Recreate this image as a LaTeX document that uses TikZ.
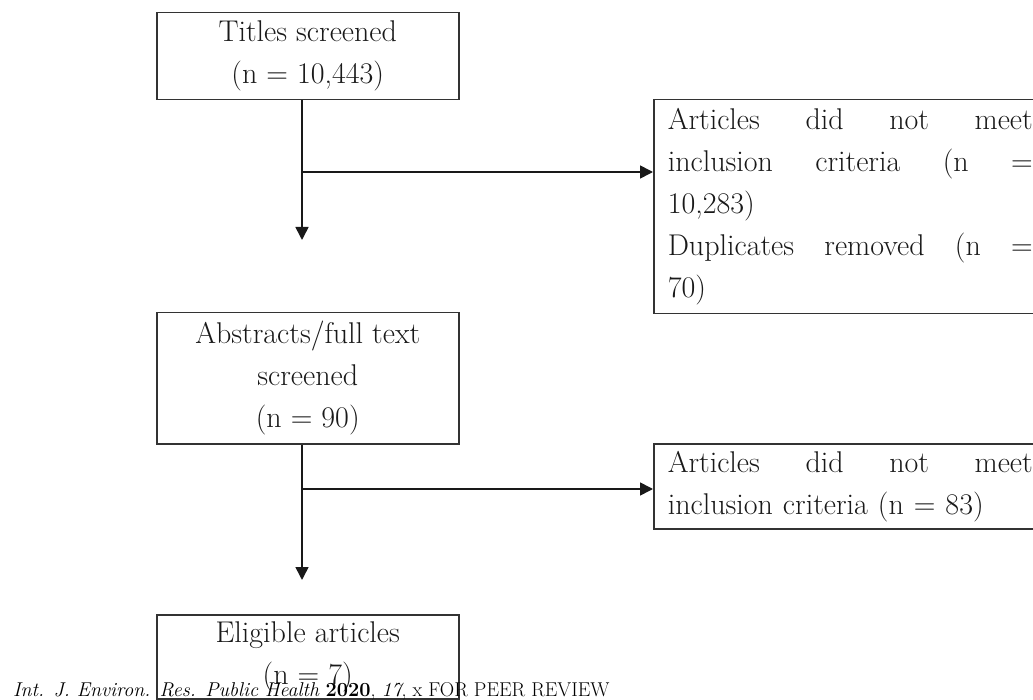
\documentclass[tikz,border=0pt]{standalone}
\usetikzlibrary{arrows.meta}
\begin{document}
\begin{tikzpicture}[x=1pt,y=-1pt,
  box/.style={draw=black!80, line width=1.5pt, inner sep=0pt, text=black!90,
    font=\fontsize{30}{42}\selectfont, anchor=north west},
  mainbox/.style={box, minimum width=302pt, align=center},
  sidebox/.style={box, minimum width=393pt, text width=365pt, align=left},
  arr/.style={draw=black!90, line width=1.6pt, -{Triangle[width=13pt,length=13pt]}}]
\useasboundingbox (0,0) rectangle (1033,700);
\clip (0,0) rectangle (1033,700);

% main column
\node[mainbox, minimum height=87pt]  (titles)    at (156,12)  {Titles screened\\(n = 10,443)};
\node[mainbox, minimum height=131pt] (abstracts) at (156,312) {Abstracts/full text\\screened\\(n = 90)};
\node[mainbox, minimum height=84pt]  (eligible)  at (156,614) {Eligible articles\\(n = 7)};

% exclusions
\node[sidebox, minimum height=214pt] (excl1) at (653,99)
  {Articles\hfill did\hfill not\hfill meet\\
   inclusion\hfill criteria\hfill (n\hfill =\\
   10,283)\\
   Duplicates\hfill removed\hfill (n\hfill =\\
   70)};
\node[sidebox, minimum height=85pt] (excl2) at (653,443)
  {Articles\hfill did\hfill not\hfill meet\\
   inclusion criteria (n = 83)};

% connectors
\coordinate (tip1) at (302,240);
\coordinate (j1)   at (302,172);
\coordinate (tip2) at (302,580);
\coordinate (j2)   at (302,489);
\draw[arr] (tip1 |- titles.south) -- (tip1);
\draw[arr] (j1) -- (j1 -| excl1.west);
\draw[arr] (tip2 |- abstracts.south) -- (tip2);
\draw[arr] (j2) -- (j2 -| excl2.west);

% running footer
\node[anchor=base west, inner sep=0pt, font=\fontsize{20}{20}\selectfont] (footer) at (13,696)
  {\textit{Int. J. Environ. Res. Public Health} \textbf{2020}, \textit{17}, x FOR PEER REVIEW};
\end{tikzpicture}
\end{document}
